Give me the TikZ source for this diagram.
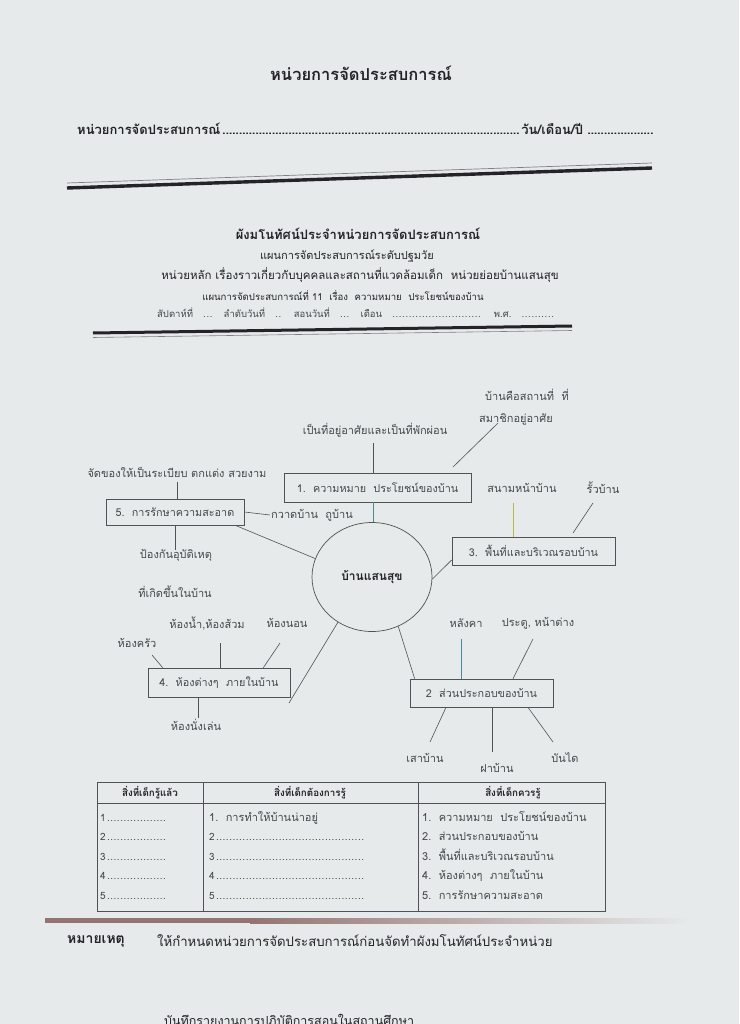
\documentclass[tikz,border=0pt]{standalone}
\usepackage{fontspec}
\setmainfont[Script=Thai]{Loma}
\usetikzlibrary{shapes.geometric,calc}
\definecolor{paper}{RGB}{230,234,234}
\definecolor{ink}{RGB}{35,35,40}
\definecolor{dink}{RGB}{70,72,76}
\definecolor{lnk}{RGB}{80,82,86}
\definecolor{yel}{RGB}{185,185,70}
\definecolor{teal}{RGB}{70,140,150}
\definecolor{rust}{RGB}{150,115,115}
\newcommand\mydots{\leaders\hbox to 3.3pt{\hss.\hss}\hfill}
\begin{document}
\begin{tikzpicture}[x=1pt,y=-1pt,
  every node/.style={inner sep=1pt,text=dink},
  lbl/.style={font=\fontsize{11}{13}\selectfont},
  cbox/.style={draw=lnk,line width=0.7pt,font=\fontsize{10.8}{13}\selectfont,inner sep=0pt},
  conn/.style={draw=lnk,line width=0.6pt},
  hd/.style={text=ink,font=\bfseries\fontsize{13}{15}\selectfont},
  sub/.style={text=ink,font=\fontsize{11}{13}\selectfont},
  tb/.style={font=\fontsize{11}{13}\selectfont,anchor=west,text height=9pt,text depth=3pt},
  tbh/.style={text=ink,font=\bfseries\fontsize{9.8}{12}\selectfont}]
\fill[paper] (0,0) rectangle (739,1024);
\useasboundingbox (0,0) rectangle (739,1024);
% ---------- header ----------
\node[hd,font=\bfseries\fontsize{16.5}{19}\selectfont] (title) at (361,73) {หน่วยการจัดประสบการณ์};
\node[hd,anchor=west] (line2) at (76,129) {\hbox to 576pt{หน่วยการจัดประสบการณ์\mydots วัน/เดือน/ปี \hbox to 66pt{\mydots}}};
\draw[line width=3.4pt,ink] (67,188) -- (652,168);
\draw[line width=0.7pt,gray] (67,183) -- (652,163);
\node[hd,font=\bfseries\fontsize{13}{15}\selectfont] (ctitle) at (358,234) {ผังมโนทัศน์ประจำหน่วยการจัดประสบการณ์};
\node[sub] (s1) at (347,256) {แผนการจัดประสบการณ์ระดับปฐมวัย};
\node[sub,font=\fontsize{11.5}{13}\selectfont] (s2) at (360,275) {หน่วยหลัก เรื่องราวเกี่ยวกับบุคคลและสถานที่แวดล้อมเด็ก\ \ หน่วยย่อยบ้านแสนสุข};
\node[sub,font=\fontsize{9.6}{12}\selectfont] (s3) at (343,296) {แผนการจัดประสบการณ์ที่ 11\ \ เรื่อง\ \ ความหมาย\ \ ประโยชน์ของบ้าน};
\node[sub,text=dink,anchor=west,font=\fontsize{9.5}{11}\selectfont] (s4) at (156,313) {\hbox to 397pt{สัปดาห์ที่\hfil\hbox to 11pt{\mydots}\hfil ลำดับวันที่\hfil\hbox to 9pt{\mydots}\hfil สอนวันที่\hfil\hbox to 11pt{\mydots}\hfil เดือน\hfil\hbox to 92pt{\mydots}\hfil พ.ศ.\hfil\hbox to 33pt{\mydots}}};
\draw[line width=3pt,ink] (93,333) -- (572,326);
\draw[line width=0.6pt,gray] (93,337.5) -- (572,330.5);
% ---------- mind map ----------
\node[draw=lnk,line width=0.7pt,ellipse,minimum width=120pt,minimum height=109pt,inner sep=0pt,text=ink,font=\bfseries\fontsize{12}{14}\selectfont] (circ) at (372,577) {บ้านแสนสุข};
\node[cbox,minimum width=187pt,minimum height=29pt] (box1) at (377.5,487.5) {1.\ \ ความหมาย\ \ ประโยชน์ของบ้าน};
\node[cbox,minimum width=138pt,minimum height=26pt] (box5) at (175,512) {5.\ \ การรักษาความสะอาด};
\node[cbox,minimum width=163pt,minimum height=28pt] (box3) at (533.5,551) {3.\ \ พื้นที่และบริเวณรอบบ้าน};
\node[cbox,minimum width=143pt,minimum height=28pt] (box2) at (481.5,693) {2\ \ ส่วนประกอบของบ้าน};
\node[cbox,minimum width=142pt,minimum height=29pt] (box4) at (219,682.5) {4.\ \ ห้องต่างๆ\ \ ภายในบ้าน};
% labels
\node[lbl] (tA) at (527,395) {บ้านคือสถานที่\ \ ที่};
\node[lbl] (tB) at (516,420) {สมาชิกอยู่อาศัย};
\node[lbl] (t1) at (375,430) {เป็นที่อยู่อาศัยและเป็นที่พักผ่อน};
\node[lbl] (t4) at (177,472) {จัดของให้เป็นระเบียบ ตกแต่ง สวยงาม};
\node[lbl,anchor=west] (t5) at (270,515) {กวาดบ้าน\ \ ถูบ้าน};
\node[lbl] (t7a) at (176,555) {ป้องกันอุบัติเหตุ};
\node[lbl] (t7b) at (175,592) {ที่เกิดขึ้นในบ้าน};
\node[lbl] (t8) at (522,488) {สนามหน้าบ้าน};
\node[lbl] (t9) at (603,488) {รั้วบ้าน};
\node[lbl] (t12) at (466,623) {หลังคา};
\node[lbl] (t13) at (538,623) {ประตู, หน้าต่าง};
\node[lbl] (t14a) at (425,758) {เสาบ้าน};
\node[lbl] (t14b) at (497,768) {ฝาบ้าน};
\node[lbl] (t14c) at (565,758) {บันได};
\node[lbl] (t15a) at (137,643) {ห้องครัว};
\node[lbl] (t15b) at (207,623) {ห้องน้ำ,ห้องส้วม};
\node[lbl] (t15c) at (287,623) {ห้องนอน};
\node[lbl] (t16) at (196,725) {ห้องนั่งเล่น};
% free ends
\coordinate (a1) at (373,443);
\coordinate (a2) at (498,423);
\coordinate (b2) at (453,467);
\coordinate (a4) at (177,482);
\coordinate (a7) at (175,550);
\coordinate (a8) at (513,503);
\coordinate (a9) at (593,503);
\coordinate (b9) at (573,533);
\coordinate (a12) at (461,639);
\coordinate (a13) at (533,639);
\coordinate (c1) at (430,742);
\coordinate (c2) at (492,752);
\coordinate (c3) at (553,742);
\coordinate (d1) at (152,655);
\coordinate (d2) at (220,643);
\coordinate (d3) at (280,643);
\coordinate (d4) at (198,718);
\coordinate (d5) at (289,703);
% connectors
\draw[conn] (a1) -- (a1 |- box1.north);
\draw[conn] (b2) -- (a2);
\draw[conn,draw=teal] (a1 |- box1.south) -- (a1 |- circ.north);
\draw[conn] (a4) -- (a4 |- box5.north);
\draw[conn] (box5.east) -- (t5.west);
\draw[conn] ([xshift=-9pt]box5.south east) -- (circ.162);
\draw[conn] (a7) -- (a7 |- box5.south);
\draw[conn,draw=yel] (a8) -- (a8 |- box3.north);
\draw[conn] (a9) -- (b9);
\draw[conn] ([yshift=-9pt]box3.west) -- (circ.-2);
\draw[conn] (circ.-62) -- ([xshift=5pt]box2.north west);
\draw[conn,draw=teal] (a12) -- (a12 |- box2.north);
\draw[conn] (a13) -- ([xshift=31.5pt]box2.north);
\draw[conn] ([xshift=-35.5pt]box2.south) -- (c1);
\draw[conn] (c2 |- box2.south) -- (c2);
\draw[conn] ([xshift=46.5pt]box2.south) -- (c3);
\draw[conn] (d1) -- ([xshift=15pt]box4.north west);
\draw[conn] (d2) -- (d2 |- box4.north);
\draw[conn] (d3) -- ([xshift=-27pt]box4.north east);
\draw[conn] (d4 |- box4.south) -- (d4);
\draw[conn] (circ.-127) -- (d5);
% ---------- table ----------
\coordinate (T1) at (97,782);
\coordinate (T2) at (605,911);
\draw[lnk,line width=0.6pt] (T1) rectangle (T2);
\draw[lnk,line width=0.6pt] (97,803) -- (605,803);
\draw[lnk,line width=0.6pt] (203,782) -- (203,911);
\draw[lnk,line width=0.6pt] (418,782) -- (418,911);
\node[tbh] (h1) at (150,793) {สิ่งที่เด็กรู้แล้ว};
\node[tbh] (h2) at (310,793) {สิ่งที่เด็กต้องการรู้};
\node[tbh] (h3) at (513,793) {สิ่งที่เด็กควรรู้};
\foreach \i/\y in {1/818,2/837,3/857,4/876,5/896}{
  \node[tb,font=\fontsize{10}{12}\selectfont] (ca\i) at (99,\y) {\hbox to 68pt{\i\mydots}};
}
\node[tb] (cb1) at (208,818) {1.\ \ การทำให้บ้านน่าอยู่};
\foreach \i/\y in {2/837,3/857,4/876,5/896}{
  \node[tb,font=\fontsize{10}{12}\selectfont] (cb\i) at (208,\y) {\hbox to 158pt{\i\mydots}};
}
\node[tb] (cc1) at (421,818) {1.\ \ ความหมาย\ \ ประโยชน์ของบ้าน};
\node[tb] (cc2) at (421,837) {2.\ \ ส่วนประกอบของบ้าน};
\node[tb] (cc3) at (421,857) {3.\ \ พื้นที่และบริเวณรอบบ้าน};
\node[tb] (cc4) at (421,876) {4.\ \ ห้องต่างๆ\ \ ภายในบ้าน};
\node[tb] (cc5) at (421,896) {5.\ \ การรักษาความสะอาด};
% ---------- footer ----------
\fill[rust] (45,918) rectangle (250,923);
\shade[left color=rust,right color=paper] (250,918) rectangle (690,923);
\node[hd,anchor=west,font=\bfseries\fontsize{14}{16}\selectfont] (note) at (66,941) {หมายเหตุ};
\node[anchor=west,text=ink,font=\fontsize{13.2}{15}\selectfont] (notetext) at (156,941) {ให้กำหนดหน่วยการจัดประสบการณ์ก่อนจัดทำผังมโนทัศน์ประจำหน่วย};
\begin{scope}
\clip (0,0) rectangle (739,1024);
\node[anchor=west,text=ink,font=\fontsize{12.5}{15}\selectfont] (bottom) at (163,1021) {บันทึกรายงานการปฏิบัติการสอนในสถานศึกษา};
\end{scope}
\end{tikzpicture}
\end{document}
